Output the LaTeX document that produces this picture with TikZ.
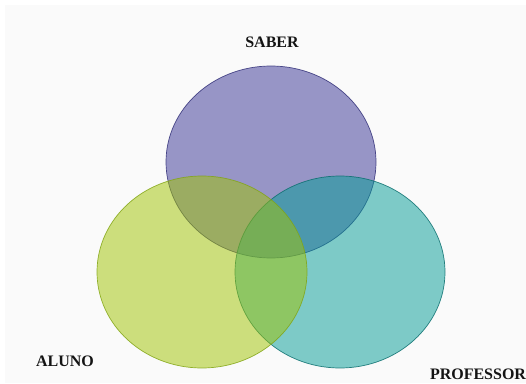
\documentclass[tikz,border=0pt]{standalone}
\usepackage{fontspec}
\setmainfont{Liberation Serif}
\usetikzlibrary{shapes.geometric}
\definecolor{bgc}{RGB}{250,250,250}
\definecolor{saberc}{RGB}{54,50,148}
\definecolor{saberd}{RGB}{50,48,120}
\definecolor{profc}{RGB}{2,156,150}
\definecolor{profd}{RGB}{10,110,110}
\definecolor{alunoc}{RGB}{160,196,0}
\definecolor{alunod}{RGB}{130,165,20}
\begin{document}
\begin{tikzpicture}[x=1pt,y=1pt,
  setc/.style={ellipse, minimum width=210pt, minimum height=192pt, fill opacity=0.5, draw opacity=0.85, line width=0.7pt, inner sep=0pt},
  lbl/.style={font=\fontsize{16}{19}\selectfont\bfseries, text=black!92, inner sep=0pt}]
\useasboundingbox (0,0) rectangle (526,383);
\fill[white] (0,0) rectangle (526,383);
\fill[bgc] (5,0) rectangle (526,378);
\node[setc, fill=saberc, draw=saberd] (saber) at (271,221) {};
\node[setc, fill=profc, draw=profd] (prof) at (340,111) {};
\node[setc, fill=alunoc, draw=alunod] (aluno) at (202,111) {};
\node[lbl] (tsaber) at (272,341) {SABER};
\node[lbl] (taluno) at (65,22) {ALUNO};
\node[lbl] (tprof) at (478,8.5) {PROFESSOR};
\end{tikzpicture}
\end{document}
